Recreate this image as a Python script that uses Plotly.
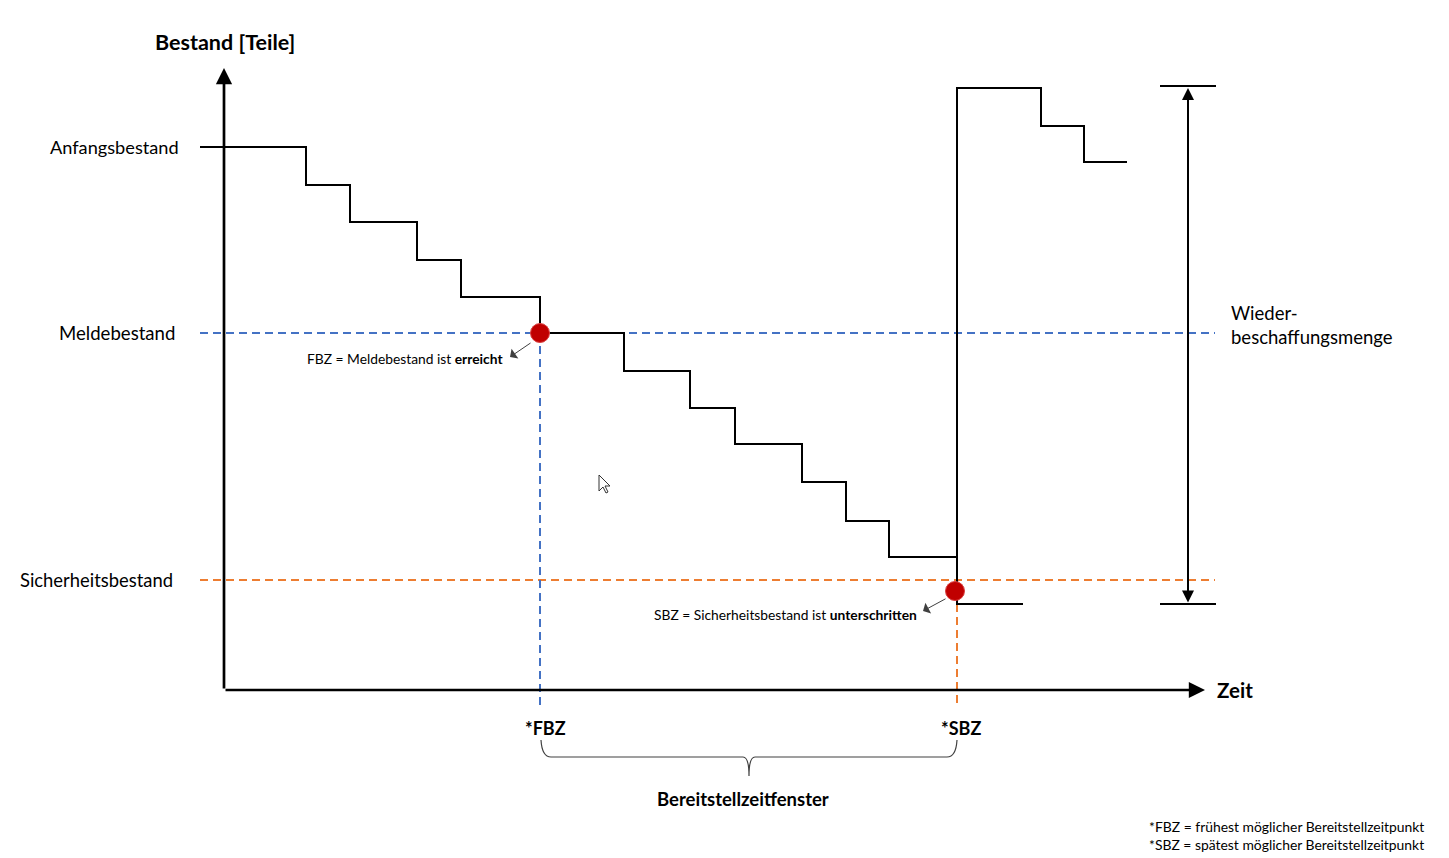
import plotly.graph_objects as go

# Zeit (t) und Bestand; Ursprung = Schnittpunkt der Achsen
t_abgang = [-25, 81, 125, 192, 236, 315, 399, 465, 510, 577, 621, 664, 732, 798]
bestand_abgang = [543, 505, 468, 430, 393, 357, 319, 282, 246, 208, 169, 133, 86, 86]

t_zugang = [732, 732, 816, 859, 902]
bestand_zugang = [86, 602, 564, 528, 528]

ANFANGSBESTAND = 543
MELDEBESTAND = 357
SICHERHEITSBESTAND = 110
T_FBZ = 315
T_SBZ = 732
SBZ_PUNKT = (730, 99)
WBM_OBEN = 602
WBM_UNTEN = 86

FONT = "Lato"
BLUE = "#4472C4"
ORANGE = "#ED7D31"
RED = "#C00000"
DASH = dict(width=2, dash="8px,5px")

fig = go.Figure()

# Hilfslinien
fig.add_trace(go.Scatter(x=[-25, 990], y=[MELDEBESTAND, MELDEBESTAND], mode="lines",
                         line=dict(color=BLUE, **DASH)))
fig.add_trace(go.Scatter(x=[-25, 990], y=[SICHERHEITSBESTAND, SICHERHEITSBESTAND], mode="lines",
                         line=dict(color=ORANGE, **DASH)))
fig.add_trace(go.Scatter(x=[T_FBZ, T_FBZ], y=[MELDEBESTAND, -18], mode="lines",
                         line=dict(color=BLUE, **DASH)))
fig.add_trace(go.Scatter(x=[T_SBZ, T_SBZ], y=[WBM_UNTEN, -18], mode="lines",
                         line=dict(color=ORANGE, **DASH)))

# Bestandsverlauf
fig.add_trace(go.Scatter(x=t_abgang, y=bestand_abgang, mode="lines", line_shape="hv",
                         line=dict(color="black", width=2)))
fig.add_trace(go.Scatter(x=t_zugang, y=bestand_zugang, mode="lines", line_shape="hv",
                         line=dict(color="black", width=2)))

# FBZ / SBZ Punkte
fig.add_trace(go.Scatter(x=[T_FBZ, SBZ_PUNKT[0]], y=[MELDEBESTAND, SBZ_PUNKT[1]], mode="markers",
                         marker=dict(color=RED, size=19, line=dict(color="#D94040", width=1))))

# Wiederbeschaffungsmenge: Begrenzungen
for yv in [WBM_OBEN + 2, WBM_UNTEN]:
    fig.add_trace(go.Scatter(x=[935, 991], y=[yv, yv], mode="lines",
                             line=dict(color="black", width=2)))

fig.update_traces(showlegend=False, hoverinfo="skip")

annotations = [
    # Achsen
    dict(x=-1, y=622, ax=-1, ay=0, showarrow=True, arrowhead=2, arrowsize=1.2, arrowwidth=2.7),
    dict(x=980, y=0, ax=-1, ay=0, showarrow=True, arrowhead=2, arrowsize=1.2, arrowwidth=2.7),
    # Doppelpfeil
    dict(x=963, y=WBM_OBEN, ax=963, ay=WBM_UNTEN, showarrow=True, arrowhead=2,
         arrowside="end+start", arrowsize=1.2, arrowwidth=2),
    # Hinweis-Pfeile
    dict(x=285, y=333, ax=307, ay=348, showarrow=True, arrowhead=1, arrowsize=2, arrowwidth=1,
         arrowcolor="#404040"),
    dict(x=698, y=79, ax=722, ay=92, showarrow=True, arrowhead=1, arrowsize=2, arrowwidth=1,
         arrowcolor="#404040"),
]
for a in annotations:
    a.setdefault("arrowcolor", "black")
    a.update(xref="x", yref="y", axref="x", ayref="y", text="", standoff=0, startstandoff=0)

texts = [
    ("<b>Bestand [Teile]</b>", -72, 648, "left", 21.5),
    ("Anfangsbestand", -44, ANFANGSBESTAND, "right", 18.2),
    ("Meldebestand", -48, MELDEBESTAND, "right", 18.6),
    ("Sicherheitsbestand", -50, SICHERHEITSBESTAND, "right", 18.4),
    ("<b>Zeit</b>", 990, 0, "left", 20.5),
    ("<b>*FBZ</b>", T_FBZ + 5, -38, "center", 18),
    ("<b>*SBZ</b>", T_SBZ + 4, -38, "center", 18),
    ("<b>Bereitstellzeitfenster</b>", 518, -109, "center", 18.5),
    ("FBZ = Meldebestand ist <b>erreicht</b>", 280, 332, "right", 13.8),
    ("SBZ = Sicherheitsbestand ist <b>unterschritten</b>", 694, 76, "right", 13.8),
    ("Wieder-<br>beschaffungsmenge", 1004, 365, "left", 18.5),
    ("*FBZ = frühest möglicher Bereitstellzeitpunkt", 1201, -136, "right", 13.9),
    ("*SBZ = spätest möglicher Bereitstellzeitpunkt", 1201, -154, "right", 13.9),
]
for txt, x, y, anchor, size in texts:
    annotations.append(dict(x=x, y=y, xref="x", yref="y", text=txt, showarrow=False,
                            xanchor=anchor, yanchor="middle", align="left",
                            font=dict(family=FONT, size=size, color="black")))

# geschweifte Klammer
x1, x2 = T_FBZ + 1, T_SBZ
mid = (x1 + x2) / 2
y_top, y_bar, y_tip = -50, -67, -86
brace = (f"M {x1},{y_top} Q {x1 + 1},{y_bar} {x1 + 10},{y_bar} L {mid - 6},{y_bar} "
         f"Q {mid},{y_bar} {mid},{y_tip} Q {mid},{y_bar} {mid + 6},{y_bar} "
         f"L {x2 - 10},{y_bar} Q {x2 - 1},{y_bar} {x2},{y_top}")

# Mauszeiger (aus dem Screenshot)
cx, cy = 374, 215
cursor_pts = [(0, 0), (0, -16), (4, -12), (7, -18), (9, -17), (6, -11), (11, -11)]
cursor = "M " + " L ".join(f"{cx + dx},{cy + dy}" for dx, dy in cursor_pts) + " Z"

# die Seite hat 8px Rand: Figur etwas kleiner, Achsenbereich entsprechend verschoben
fig.update_layout(
    width=1441,
    height=850,
    margin=dict(l=0, r=0, t=0, b=0),
    plot_bgcolor="white",
    paper_bgcolor="white",
    annotations=annotations,
    shapes=[
        dict(type="path", path=brace, xref="x", yref="y",
             line=dict(color="#404040", width=1.2)),
        dict(type="path", path=cursor, xref="x", yref="y", fillcolor="white",
             line=dict(color="#333333", width=1)),
    ],
    xaxis=dict(range=[-217, 1224], visible=False, fixedrange=True),
    yaxis=dict(range=[-168, 682], visible=False, fixedrange=True),
)

fig.write_html("out.html")
